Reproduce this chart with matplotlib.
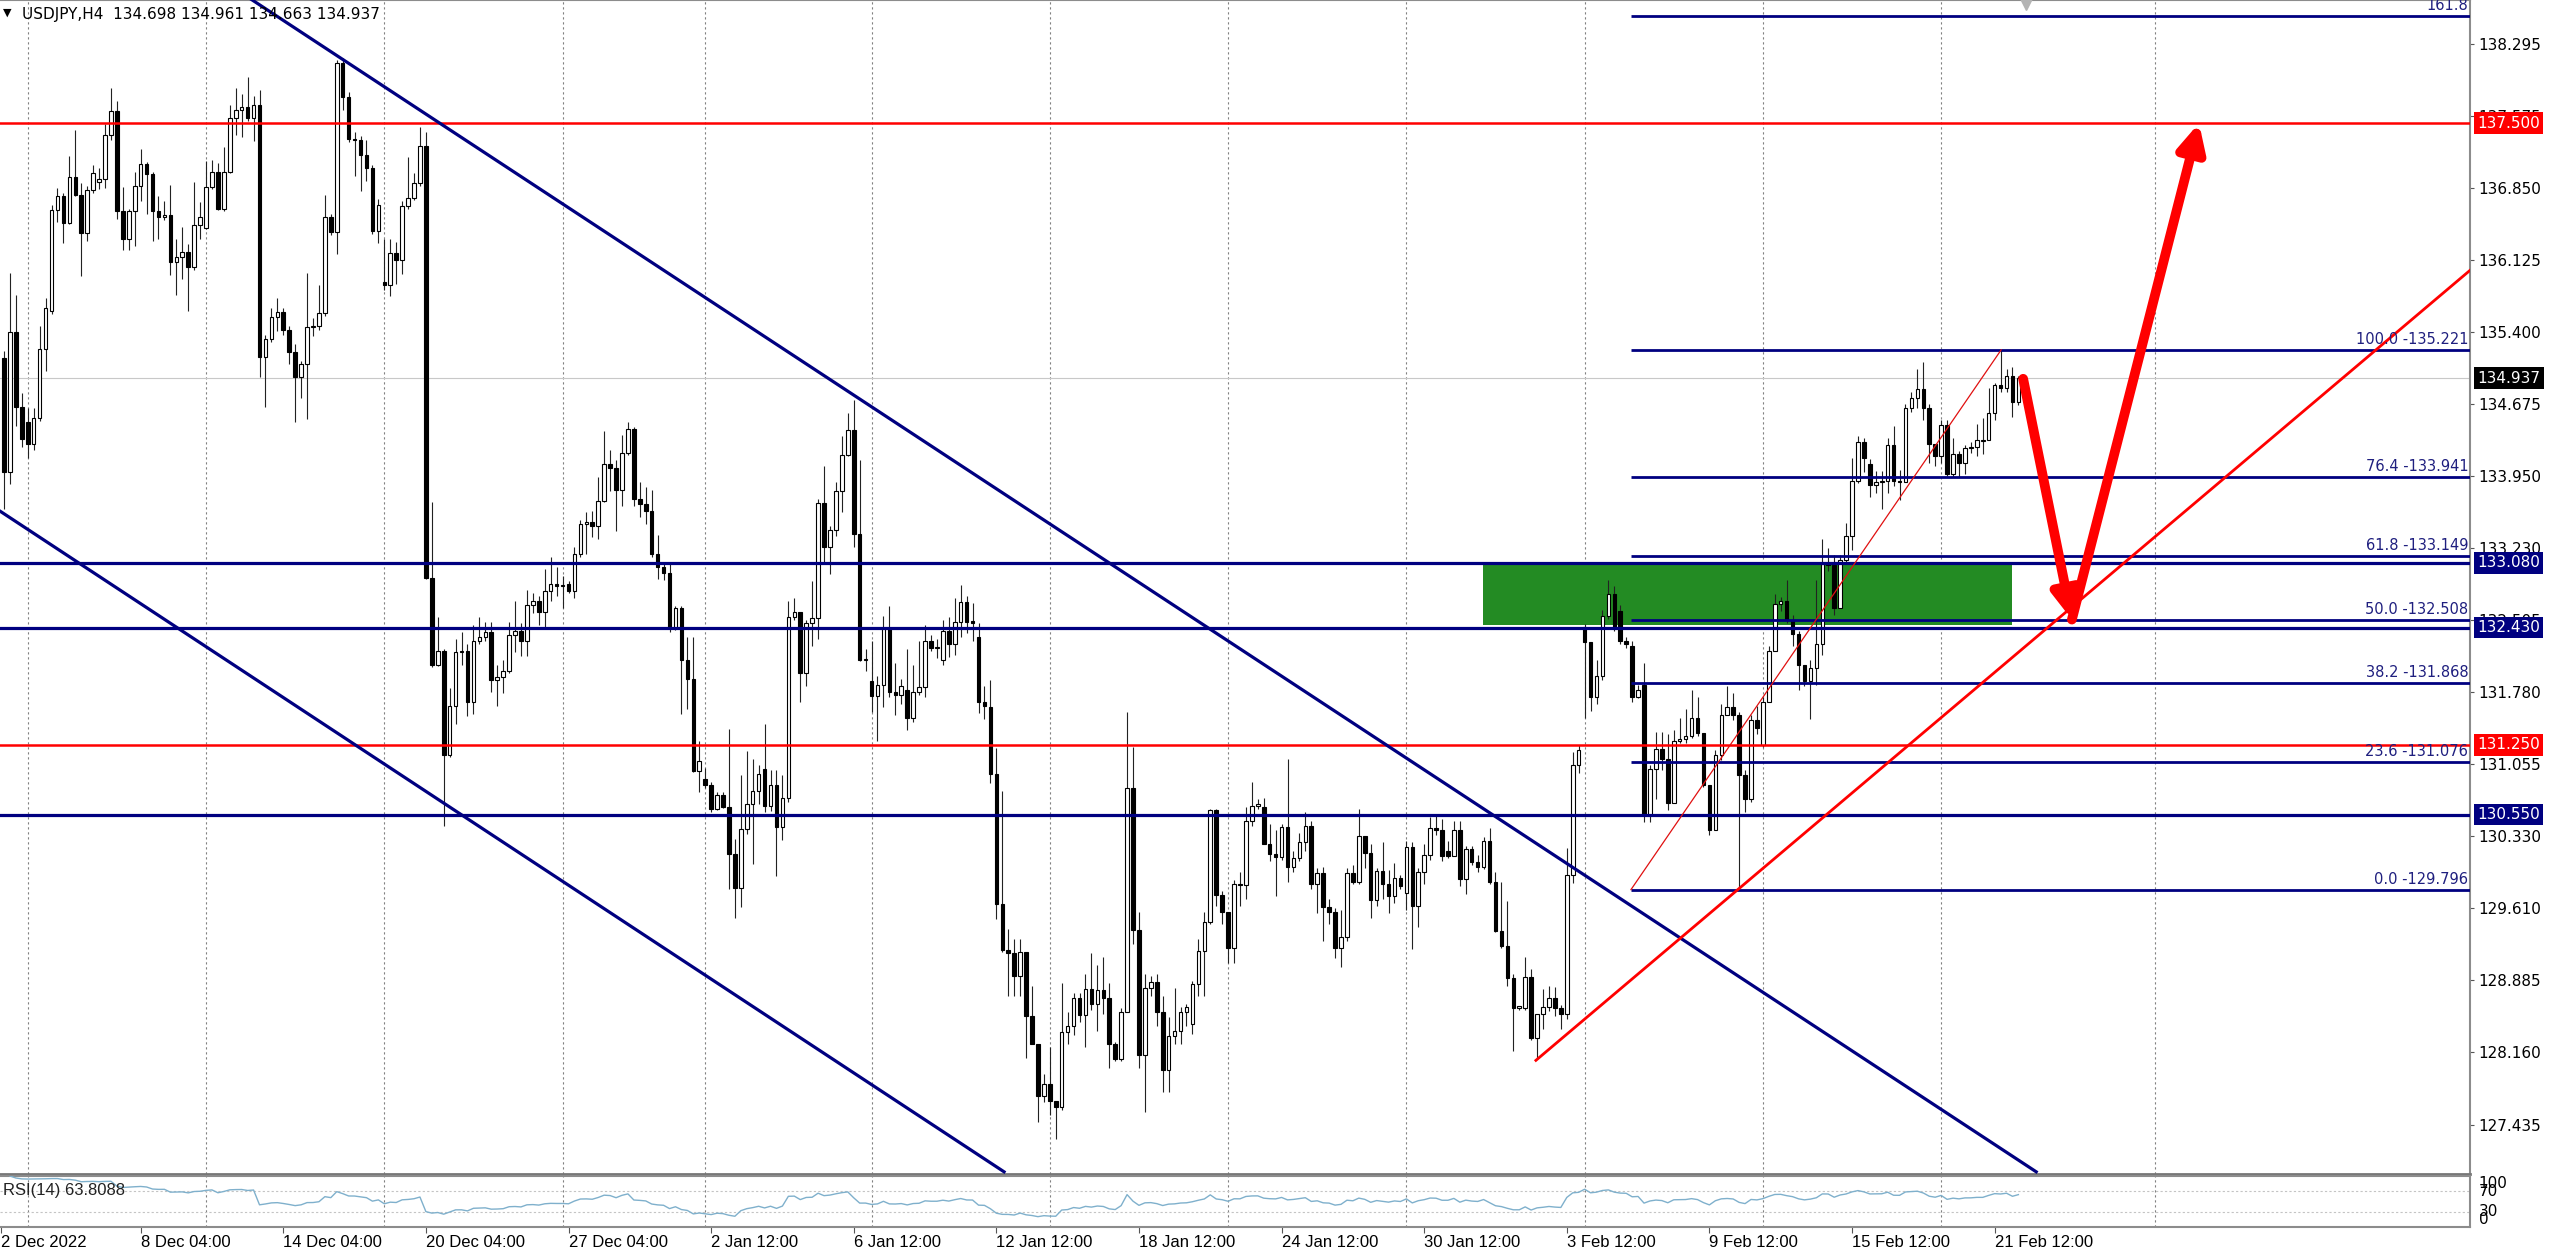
import numpy as np
import pandas as pd
import matplotlib
matplotlib.use('Agg')
import matplotlib.pyplot as plt
from matplotlib.patches import Rectangle
from matplotlib.transforms import blended_transform_factory

# USDJPY H4 candles (bar 0 = 2 Dec 2022)
opens = [
    135.14, 133.99, 135.40, 134.65, 134.50, 134.27, 134.54, 135.23, 135.61, 136.63,
    136.77, 136.50, 136.96, 136.78, 136.40, 136.83, 136.91, 136.94, 137.38, 137.62,
    136.62, 136.33, 136.62, 136.87, 137.09, 136.99, 136.62, 136.56, 136.58, 136.10,
    136.15, 136.20, 136.05, 136.48, 136.45, 136.86, 137.01, 136.64, 137.01, 137.55,
    137.63, 137.66, 137.55, 137.68, 135.15, 135.33, 135.55, 135.60, 135.42, 135.20,
    134.95, 135.08, 135.45, 135.46, 135.59, 136.56, 136.41, 138.10, 137.76, 137.34,
    137.33, 137.18, 137.05, 136.42, 135.90, 135.87, 136.19, 136.12, 136.67, 136.75,
    136.90, 137.27, 132.93, 132.05, 132.19, 131.15, 131.64, 132.18, 132.19, 131.68,
    132.29, 132.34, 132.39, 131.90, 131.93, 131.99, 132.36, 132.40, 132.29, 132.66,
    132.70, 132.59, 132.80, 132.87, 132.85, 132.87, 132.80, 133.17, 133.47, 133.49,
    133.45, 133.70, 134.07, 134.03, 133.81, 134.18, 134.43, 133.72, 133.67, 133.60,
    133.17, 133.04, 132.98, 132.43, 132.63, 132.10, 131.91, 130.99, 130.91, 130.85,
    130.61, 130.75, 130.63, 130.15, 129.81, 130.41, 130.66, 130.79, 131.01, 130.64,
    130.85, 130.43, 130.72, 132.54, 132.59, 131.97, 132.48, 132.53, 133.68, 133.24,
    133.41, 133.80, 134.16, 134.42, 133.37, 132.10, 131.89, 131.74, 131.85, 132.43,
    131.78, 131.75, 131.80, 131.52, 131.78, 131.83, 132.29, 132.22, 132.10, 132.40,
    132.26, 132.49, 132.69, 132.49, 132.34, 131.68, 131.63, 130.96, 129.65, 129.19,
    129.16, 128.93, 129.17, 128.53, 128.24, 127.72, 127.84, 127.67, 127.61, 128.37,
    128.43, 128.71, 128.54, 128.80, 128.65, 128.79, 128.71, 128.24, 128.09, 128.57,
    130.82, 129.39, 128.13, 128.81, 128.87, 128.57, 127.98, 128.32, 128.38, 128.57,
    128.45, 128.85, 129.18, 129.47, 130.60, 129.74, 129.57, 129.21, 129.85, 129.84,
    130.49, 130.64, 130.63, 130.25, 130.15, 130.12, 130.43, 130.02, 130.11, 130.27,
    130.44, 129.85, 129.96, 129.62, 129.57, 129.21, 129.32, 129.96, 129.87, 130.34,
    130.16, 129.69, 129.98, 129.85, 129.73, 129.91, 129.76, 130.22, 129.63, 129.97,
    130.14, 130.42, 130.40, 130.18, 130.13, 130.40, 129.90, 130.20, 130.07, 130.02,
    130.28, 129.87, 129.38, 129.23, 128.91, 128.61, 128.61, 128.92, 128.30, 128.55,
    128.62, 128.71, 128.61, 128.55, 129.94, 131.05, 132.44, 132.28, 131.73, 131.94,
    132.55, 132.77, 132.60, 132.29, 132.24, 131.73, 131.85, 130.55, 131.01, 131.21,
    131.11, 130.67, 131.29, 131.31, 131.34, 131.52, 131.37, 130.85, 130.40, 131.15,
    131.55, 131.63, 131.55, 130.95, 130.71, 131.50, 131.25, 131.68, 132.19, 132.67,
    132.70, 132.51, 132.37, 132.05, 131.89, 132.02, 132.26, 133.07, 133.06, 132.63,
    133.11, 133.35, 133.90, 134.29, 134.07, 133.86, 133.89, 133.90, 134.26, 133.90,
    133.89, 134.64, 134.74, 134.83, 134.64, 134.27, 134.15, 134.47, 133.97, 134.17,
    134.08, 134.23, 134.24, 134.30, 134.31, 134.59, 134.87, 134.84, 134.96, 134.698]

highs = [
    135.21, 135.99, 135.77, 134.79, 134.64, 134.64, 135.46, 135.74, 136.68, 136.85,
    136.80, 137.17, 137.43, 136.90, 136.87, 137.08, 137.05, 137.49, 137.85, 137.72,
    136.86, 136.64, 137.01, 137.24, 137.11, 137.01, 136.77, 136.72, 136.88, 136.33,
    136.46, 136.28, 136.91, 136.71, 137.12, 137.13, 137.10, 137.26, 137.68, 137.85,
    137.79, 137.96, 137.77, 137.83, 135.37, 135.64, 135.74, 135.64, 135.46, 135.28,
    135.11, 135.99, 135.54, 135.87, 136.78, 136.59, 138.13, 138.15, 137.81, 137.41,
    137.37, 137.33, 137.08, 136.74, 136.33, 136.34, 136.30, 136.72, 137.16, 137.00,
    137.46, 137.41, 133.69, 132.54, 132.21, 131.82, 132.31, 132.39, 132.26, 132.46,
    132.54, 132.49, 132.49, 132.05, 132.10, 132.49, 132.70, 132.48, 132.81, 132.78,
    132.75, 133.02, 133.14, 133.04, 132.95, 132.90, 133.24, 133.51, 133.59, 133.60,
    133.94, 134.41, 134.21, 134.11, 134.37, 134.50, 134.45, 133.89, 133.84, 133.81,
    133.36, 133.08, 133.07, 132.65, 132.65, 132.34, 132.34, 131.29, 131.02, 130.88,
    130.78, 130.78, 131.41, 130.30, 130.95, 131.19, 131.11, 131.05, 131.46, 131.00,
    131.00, 130.95, 132.70, 132.73, 132.59, 132.51, 132.90, 133.72, 134.05, 133.45,
    133.89, 134.36, 134.59, 134.72, 134.11, 132.21, 132.29, 131.94, 132.55, 132.65,
    132.07, 131.91, 132.21, 132.05, 132.29, 132.46, 132.36, 132.31, 132.51, 132.54,
    132.73, 132.86, 132.75, 132.68, 132.48, 131.84, 131.90, 131.22, 130.79, 129.40,
    129.30, 129.30, 129.17, 128.83, 128.24, 127.94, 128.21, 127.67, 128.86, 128.57,
    128.76, 128.76, 128.95, 129.16, 129.04, 129.12, 128.86, 128.26, 128.61, 131.58,
    131.23, 129.57, 128.95, 128.93, 128.95, 128.73, 128.52, 128.81, 128.62, 128.65,
    128.88, 129.30, 129.57, 130.61, 130.61, 129.78, 129.57, 129.89, 129.97, 130.63,
    130.88, 130.71, 130.72, 130.46, 130.40, 130.46, 131.11, 130.18, 130.37, 130.58,
    130.49, 130.01, 130.02, 129.70, 129.61, 129.59, 130.01, 130.04, 130.61, 130.34,
    130.25, 130.01, 130.27, 129.99, 130.06, 129.94, 130.28, 130.27, 130.01, 130.25,
    130.53, 130.54, 130.51, 130.28, 130.49, 130.49, 130.23, 130.23, 130.14, 130.32,
    130.42, 129.97, 129.87, 129.68, 128.95, 128.63, 129.12, 129.00, 128.55, 128.80,
    128.83, 128.82, 128.64, 130.21, 131.18, 131.25, 132.47, 132.28, 132.10, 132.61,
    132.91, 132.85, 132.66, 132.33, 132.29, 131.85, 132.07, 131.05, 131.38, 131.38,
    131.36, 131.40, 131.52, 131.61, 131.80, 131.73, 131.37, 130.85, 131.20, 131.66,
    131.84, 131.77, 131.58, 131.00, 131.55, 131.64, 131.73, 132.24, 132.77, 132.74,
    132.91, 132.56, 132.40, 132.05, 132.10, 132.91, 133.32, 133.23, 133.16, 133.16,
    133.48, 134.13, 134.36, 134.34, 134.12, 134.00, 134.00, 134.34, 134.46, 134.01,
    134.68, 134.80, 135.03, 135.10, 134.68, 134.27, 134.52, 134.52, 134.34, 134.20,
    134.26, 134.29, 134.48, 134.54, 134.84, 134.89, 135.22, 135.03, 135.05, 134.961]

lows = [
    133.62, 133.87, 134.46, 134.24, 134.13, 134.21, 134.51, 135.01, 135.58, 136.51,
    136.29, 136.49, 136.77, 135.96, 136.31, 136.80, 136.84, 136.85, 137.33, 136.54,
    136.22, 136.22, 136.26, 136.72, 136.59, 136.31, 136.33, 136.53, 135.97, 135.77,
    135.93, 135.61, 136.02, 136.33, 136.44, 136.84, 136.63, 136.62, 137.00, 137.38,
    137.36, 137.52, 137.32, 134.95, 134.65, 135.30, 135.41, 135.37, 135.08, 134.50,
    134.74, 134.53, 135.36, 135.42, 135.56, 136.38, 136.18, 137.63, 137.31, 136.97,
    136.82, 136.92, 136.39, 136.29, 135.82, 135.76, 135.88, 135.98, 136.64, 136.73,
    136.87, 132.92, 132.03, 132.04, 130.44, 131.13, 131.46, 132.05, 131.54, 131.56,
    132.26, 132.29, 131.78, 131.64, 131.77, 131.97, 132.18, 132.14, 132.14, 132.58,
    132.46, 132.44, 132.70, 132.75, 132.63, 132.78, 132.73, 133.14, 133.17, 133.34,
    133.32, 133.69, 133.80, 133.40, 133.65, 134.16, 133.65, 133.54, 133.47, 133.14,
    132.92, 132.91, 132.39, 132.41, 131.56, 131.61, 130.98, 130.78, 130.82, 130.58,
    130.60, 130.62, 129.80, 129.51, 129.62, 130.36, 130.05, 130.66, 130.58, 130.59,
    129.93, 130.29, 130.68, 132.51, 131.68, 131.84, 132.24, 132.31, 133.08, 132.97,
    133.35, 133.59, 134.15, 133.24, 132.09, 131.99, 131.58, 131.29, 131.63, 131.73,
    131.55, 131.66, 131.40, 131.48, 131.75, 131.73, 132.19, 132.12, 132.05, 132.13,
    132.15, 132.33, 132.38, 132.29, 131.57, 131.51, 130.87, 129.50, 129.17, 128.73,
    128.73, 128.73, 128.10, 128.24, 127.46, 127.66, 127.53, 127.29, 127.58, 128.24,
    128.33, 128.47, 128.21, 128.59, 128.38, 128.55, 128.00, 128.07, 128.07, 128.57,
    129.25, 128.00, 127.56, 128.73, 128.43, 127.76, 127.76, 128.24, 128.24, 128.43,
    128.35, 128.73, 128.73, 129.45, 129.63, 129.45, 129.06, 129.06, 129.63, 129.70,
    130.44, 130.61, 130.25, 130.08, 129.73, 130.09, 129.87, 129.97, 130.08, 130.18,
    129.80, 129.56, 129.28, 129.45, 129.11, 129.02, 129.28, 129.85, 129.85, 130.01,
    129.51, 129.63, 129.70, 129.56, 129.66, 129.80, 129.59, 129.20, 129.42, 129.85,
    130.09, 130.35, 130.08, 130.11, 130.13, 129.83, 129.75, 130.04, 129.97, 130.00,
    129.85, 129.37, 129.21, 128.83, 128.17, 128.59, 128.59, 128.28, 128.09, 128.40,
    128.58, 128.53, 128.40, 128.50, 129.86, 130.97, 131.52, 131.59, 131.66, 131.90,
    132.52, 132.40, 132.26, 132.22, 131.68, 131.72, 130.48, 130.48, 130.71, 131.00,
    130.60, 130.67, 131.27, 131.27, 131.32, 131.34, 130.83, 130.35, 130.40, 131.10,
    131.55, 131.50, 129.81, 130.58, 130.68, 131.36, 131.23, 131.68, 132.19, 132.60,
    132.48, 132.24, 131.80, 131.84, 131.51, 131.85, 132.15, 133.00, 132.56, 132.63,
    133.09, 133.21, 133.88, 133.99, 133.74, 133.78, 133.62, 133.78, 133.85, 133.71,
    133.89, 134.60, 134.64, 134.52, 134.08, 134.05, 134.08, 133.95, 133.94, 133.94,
    133.97, 134.18, 134.15, 134.17, 134.31, 134.52, 134.80, 134.80, 134.55, 134.663]

closes = [
    133.99, 135.40, 134.65, 134.32, 134.27, 134.54, 135.23, 135.64, 136.63, 136.77,
    136.50, 136.96, 136.78, 136.40, 136.83, 137.00, 136.94, 137.38, 137.62, 136.62,
    136.33, 136.62, 136.87, 137.09, 136.99, 136.62, 136.56, 136.58, 136.10, 136.15,
    136.20, 136.05, 136.48, 136.56, 136.86, 137.01, 136.64, 137.01, 137.55, 137.63,
    137.66, 137.55, 137.68, 135.15, 135.33, 135.55, 135.60, 135.42, 135.20, 134.95,
    135.08, 135.45, 135.46, 135.59, 136.56, 136.41, 138.10, 137.76, 137.34, 137.33,
    137.18, 137.05, 136.42, 136.68, 135.87, 136.19, 136.12, 136.67, 136.75, 136.90,
    137.27, 132.93, 132.05, 132.19, 131.15, 131.64, 132.18, 132.19, 131.68, 132.29,
    132.34, 132.39, 131.90, 131.93, 131.99, 132.36, 132.40, 132.29, 132.66, 132.70,
    132.59, 132.80, 132.87, 132.85, 132.85, 132.80, 133.17, 133.47, 133.49, 133.45,
    133.70, 134.07, 134.03, 133.81, 134.18, 134.43, 133.72, 133.67, 133.60, 133.17,
    133.04, 132.98, 132.43, 132.63, 132.10, 131.91, 130.99, 131.09, 130.85, 130.61,
    130.75, 130.63, 130.15, 129.81, 130.41, 130.66, 130.79, 130.96, 130.64, 130.85,
    130.43, 130.72, 132.54, 132.59, 131.97, 132.48, 132.53, 133.68, 133.24, 133.41,
    133.80, 134.16, 134.42, 133.37, 132.10, 132.10, 131.74, 131.85, 132.43, 131.78,
    131.75, 131.84, 131.52, 131.78, 131.83, 132.29, 132.22, 132.22, 132.40, 132.26,
    132.49, 132.69, 132.49, 132.48, 131.68, 131.64, 130.96, 129.65, 129.19, 129.16,
    128.93, 129.17, 128.53, 128.24, 127.72, 127.84, 127.67, 127.61, 128.37, 128.43,
    128.71, 128.54, 128.80, 128.65, 128.79, 128.71, 128.24, 128.09, 128.57, 130.82,
    129.39, 128.13, 128.81, 128.87, 128.57, 127.98, 128.32, 128.38, 128.57, 128.62,
    128.85, 129.18, 129.47, 130.60, 129.74, 129.57, 129.21, 129.85, 129.84, 130.49,
    130.64, 130.66, 130.25, 130.15, 130.12, 130.43, 130.02, 130.11, 130.27, 130.44,
    129.85, 129.96, 129.62, 129.57, 129.21, 129.32, 129.96, 129.87, 130.34, 130.16,
    129.69, 129.98, 129.85, 129.73, 129.91, 129.83, 130.22, 129.63, 129.97, 130.14,
    130.42, 130.40, 130.13, 130.13, 130.40, 129.90, 130.20, 130.07, 130.02, 130.28,
    129.87, 129.38, 129.23, 128.91, 128.61, 128.61, 128.92, 128.30, 128.55, 128.62,
    128.71, 128.61, 128.55, 129.94, 131.05, 131.20, 132.28, 131.73, 131.94, 132.55,
    132.77, 132.43, 132.29, 132.26, 131.73, 131.80, 130.55, 131.01, 131.21, 131.11,
    130.67, 131.29, 131.31, 131.34, 131.52, 131.37, 130.85, 130.40, 131.15, 131.55,
    131.63, 131.55, 130.95, 130.71, 131.50, 131.42, 131.68, 132.19, 132.67, 132.70,
    132.51, 132.37, 132.05, 131.89, 132.02, 132.26, 133.07, 133.06, 132.63, 133.11,
    133.35, 133.90, 134.29, 134.13, 133.86, 133.89, 133.90, 134.26, 133.90, 133.89,
    134.64, 134.74, 134.83, 134.64, 134.27, 134.15, 134.47, 133.97, 134.17, 134.08,
    134.23, 134.24, 134.31, 134.31, 134.59, 134.87, 134.84, 134.96, 134.70, 134.937]

price_ticks = [138.295, 137.575, 136.850, 136.125, 135.400, 134.675, 133.950, 133.230,
               132.505, 131.780, 131.055, 130.330, 129.610, 128.885, 128.160, 127.435]

date_pos = [-0.5, 23, 47, 71, 95, 119, 143, 167, 191, 215, 239, 263, 287, 311, 335]
date_labels = ['2 Dec 2022', '8 Dec 04:00', '14 Dec 04:00', '20 Dec 04:00', '27 Dec 04:00',
               '2 Jan 12:00', '6 Jan 12:00', '12 Jan 12:00', '18 Jan 12:00', '24 Jan 12:00',
               '30 Jan 12:00', '3 Feb 12:00', '9 Feb 12:00', '15 Feb 12:00', '21 Feb 12:00']
grid_bars = [4, 34, 64, 94, 118, 146, 176, 206, 236, 266, 296, 326, 362]

# horizontal levels with their price-axis boxes
levels = [137.500, 133.080, 132.430, 131.250, 130.550]
level_colors = ['#ff0000', '#000080', '#000080', '#ff0000', '#000080']
level_widths = [1.8, 2.3, 2.3, 1.8, 2.3]

# fibonacci retracement
fib_names = ['161.8', '100.0 -135.221', '76.4 -133.941', '61.8 -133.149',
             '50.0 -132.508', '38.2 -131.868', '23.6 -131.076', '0.0 -129.796']
fib_prices = [138.574, 135.221, 133.941, 133.149, 132.508, 131.868, 131.076, 129.796]
fib_start = 273.8
fib_diag = ([273.8, 336.1], [129.796, 135.221])

# drawn objects (bar, price)
chan_upper = ([41.7, 342.0], [138.74, 126.96])
chan_lower = ([-0.67, 168.3], [133.60, 126.96])
red_trend = ([257.8, 415.0], [128.08, 136.02])
zone = (248.9, 337.9, 132.46, 133.07)
arrow_down = ((339.8, 134.93), (348.0, 132.51))
arrow_up = ((348.0, 132.51), (369.4, 137.50))
last_price = 134.937

plt.rcParams['font.family'] = ['DejaVu Sans']
navy = '#000080'
axgray = '#8c8c8c'

fig = plt.figure(figsize=(25.6, 12.55), dpi=100)
fig.patch.set_facecolor('white')
ax = fig.add_axes([0, 1 - 1174 / 1255, 2470 / 2560, 1174 / 1255])
ax2 = fig.add_axes([0, 1 - 1227 / 1255, 2470 / 2560, 51 / 1255], sharex=ax)

xmin, xmax = -0.673, 415.0
ax.set_xlim(xmin, xmax)
ax.set_ylim(126.938, 138.737)

for g in grid_bars:
    ax.axvline(g, color='#808080', lw=0.8, ls=(0, (2, 2.5)), zorder=0.5)
    ax2.axvline(g, color='#808080', lw=0.8, ls=(0, (2, 2.5)), zorder=0.5)

# green zone behind candles
ax.add_patch(Rectangle((zone[0], zone[2]), zone[1] - zone[0], zone[3] - zone[2],
                       facecolor='#238b23', edgecolor='none', zorder=1))

ax.axhline(last_price, color='#c8c8c8', lw=0.8, zorder=2)

# candles
o = np.array(opens)
h = np.array(highs)
l = np.array(lows)
c = np.array(closes)
x = np.arange(len(c))
up = c >= o
body = np.maximum(np.abs(c - o), 0.012)
base = np.minimum(o, c)
ax.vlines(x, l, h, color='#222222', lw=0.8, zorder=3)
ax.bar(x[up], body[up], bottom=base[up], width=0.6, color='white',
       edgecolor='black', linewidth=0.8, zorder=4)
ax.bar(x[~up], body[~up], bottom=base[~up], width=0.6, color='black',
       edgecolor='black', linewidth=0.8, zorder=4)

# levels
for p, col, w in zip(levels, level_colors, level_widths):
    ax.axhline(p, color=col, lw=w, zorder=5)

for name, p in zip(fib_names, fib_prices):
    ax.plot([fib_start, xmax], [p, p], color=navy, lw=2.0, zorder=5, solid_capstyle='butt')
ax.plot(*fib_diag, color='#e01010', lw=0.9, zorder=5)

ax.plot(*chan_upper, color=navy, lw=2.3, zorder=5)
ax.plot(*chan_lower, color=navy, lw=2.3, zorder=5)
ax.plot(*red_trend, color='#ff0000', lw=2.0, zorder=5)

for a in (arrow_down, arrow_up):
    ax.annotate('', xy=a[1], xytext=a[0],
                arrowprops=dict(arrowstyle='-|>,head_length=0.5,head_width=0.25',
                                color='#ff0000', lw=7, mutation_scale=32,
                                shrinkA=0, shrinkB=0), zorder=6)

ax.plot([340.3], [138.70], marker='v', color='#b4b4b4', markersize=9,
        clip_on=False, zorder=6)

# axes styling
ax.spines['left'].set_visible(False)
ax2.spines['left'].set_visible(False)
ax.spines['right'].set_color(axgray)
ax.spines['right'].set_linewidth(1.5)
ax.spines['top'].set_color(axgray)
ax.spines['bottom'].set_color('#777777')
ax.spines['bottom'].set_linewidth(2)
for s in ['top', 'bottom', 'right']:
    ax2.spines[s].set_color(axgray)
    ax2.spines[s].set_linewidth(1.5)

ax.yaxis.tick_right()
ax.set_yticks(price_ticks)
ax.set_yticklabels(['%.3f' % t for t in price_ticks])
ax.tick_params(axis='y', direction='out', length=3, width=0.8, color='#555555',
               labelsize=11, pad=3)
ax.tick_params(axis='x', bottom=False, labelbottom=False)

tr = blended_transform_factory(ax.transAxes, ax.transData)
for name, p in zip(fib_names, fib_prices):
    ax.text(0.9993, p + 0.03, name, transform=tr, ha='right', va='bottom',
            color='#1f1f7f', fontsize=10.5, zorder=7)

for p, col in zip(levels, level_colors):
    ax.text(1.0029, p, '%.3f' % p, transform=tr, ha='left', va='center', color='white',
            fontsize=11, clip_on=False, zorder=10,
            bbox=dict(boxstyle='square,pad=0.22', facecolor=col, edgecolor='none'))
ax.text(1.0029, last_price, '%.3f' % last_price, transform=tr, ha='left', va='center',
        color='white', fontsize=11, clip_on=False, zorder=10,
        bbox=dict(boxstyle='square,pad=0.22', facecolor='black', edgecolor='none'))

# RSI panel
cs = pd.Series(closes)
d = cs.diff()
gain = d.clip(lower=0).ewm(alpha=1 / 14, adjust=False).mean()
loss = (-d.clip(upper=0)).ewm(alpha=1 / 14, adjust=False).mean()
rsi = 100 - 100 / (1 + gain / loss)
ax2.plot(x, rsi, color='#7fb0cc', lw=1.0, zorder=3)
ax2.set_ylim(0, 100)
ax2.axhline(70, color='#c4c4c4', lw=0.8, ls=(0, (2, 2)), zorder=1)
ax2.axhline(30, color='#c4c4c4', lw=0.8, ls=(0, (2, 2)), zorder=1)
ax2.set_yticks([])
ax2.text(0.0012, 0.72, 'RSI(14) 63.8088', transform=ax2.transAxes, ha='left', va='center',
         fontsize=12, family=['Liberation Sans', 'DejaVu Sans'], color='#222222')
tr2 = blended_transform_factory(ax2.transAxes, ax2.transData)
for v, va in [(100, 'top'), (70, 'center'), (30, 'center'), (0, 'bottom')]:
    ax2.text(1.0035, v, str(v), transform=tr2, ha='left', va=va, fontsize=11, clip_on=False)

ax2.set_xticks(date_pos)
ax2.set_xticklabels(date_labels, ha='left', fontsize=12,
                    family=['Liberation Sans', 'DejaVu Sans'])
ax2.tick_params(axis='x', direction='out', length=4, width=0.8, color='#555555', pad=2)

# header
fig.text(3 / 2560, 1 - 13 / 1255, '\u25bc', fontsize=8, va='center', ha='left')
fig.text(22 / 2560, 1 - 14 / 1255, 'USDJPY,H4  134.698 134.961 134.663 134.937',
         fontsize=11, va='center', ha='left')

fig.savefig('out.png', dpi=100, facecolor='white')
